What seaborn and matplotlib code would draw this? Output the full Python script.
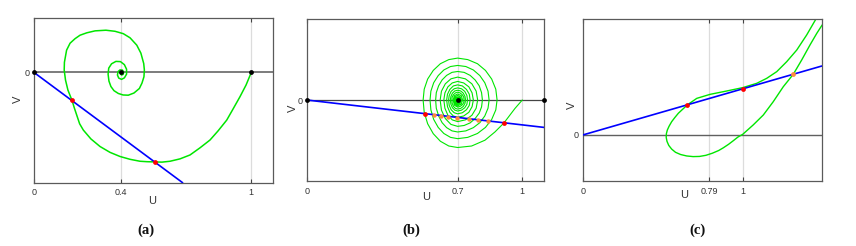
import numpy as np
import matplotlib
matplotlib.use("Agg")
import matplotlib.pyplot as plt
import seaborn as sns

# ---------------- data ----------------
# panel (a)
a_curve_u = [1.000, 0.976, 0.948, 0.916, 0.887, 0.847, 0.810, 0.764, 0.718, 0.672,
             0.626, 0.589, 0.555, 0.520, 0.488, 0.442, 0.396, 0.350, 0.304, 0.262,
             0.227, 0.210, 0.198, 0.186, 0.175, 0.165, 0.156, 0.145, 0.139, 0.140, 0.150, 0.166, 0.189,
             0.212, 0.243, 0.281, 0.331, 0.373, 0.411, 0.442, 0.473, 0.492, 0.505,
             0.508, 0.506, 0.497, 0.485, 0.460, 0.434, 0.410, 0.388, 0.368, 0.354,
             0.345, 0.341, 0.344, 0.357, 0.377, 0.398, 0.416, 0.426, 0.426, 0.416,
             0.403, 0.390, 0.384, 0.387, 0.396, 0.407, 0.413, 0.410, 0.403, 0.397,
             0.399, 0.400]
a_curve_v = [0.000, -0.058, -0.112, -0.169, -0.220, -0.270, -0.312, -0.348, -0.381, -0.399,
             -0.410, -0.414, -0.413, -0.412, -0.410, -0.401, -0.388, -0.369, -0.342, -0.307,
             -0.266, -0.237, -0.201, -0.165, -0.129, -0.104, -0.081, -0.035, 0.011, 0.047, 0.103, 0.135, 0.156,
             0.172, 0.183, 0.192, 0.195, 0.190, 0.179, 0.160, 0.126, 0.089, 0.041,
             0.011, -0.020, -0.049, -0.074, -0.095, -0.105, -0.104, -0.097, -0.084, -0.065,
             -0.040, -0.008, 0.020, 0.040, 0.051, 0.050, 0.036, 0.015, -0.008, -0.025,
             -0.032, -0.026, -0.012, 0.004, 0.012, 0.011, 0.001, -0.009, -0.012, -0.006,
             0.000, 0.000]
a_line_u = [0.0, 0.684]
a_line_v = [0.0, -0.509]
a_red_u = [0.175, 0.555]
a_red_v = [-0.129, -0.413]
a_black_u = [0.0, 0.4, 1.0]
a_black_v = [0.0, 0.0, 0.0]
a_ticks = [0, 0.4, 1]
a_ticklabels = ["0", "0.4", "1"]

# panel (b): trajectory from (1, 0) spiralling into (0.7, 0), loop by loop
b_curve_u = [1.000, 0.966, 0.915, 0.873, 0.827, 0.765,
             # loop 0
             0.700, 0.659, 0.620, 0.587, 0.561, 0.545, 0.540, 0.545, 0.561, 0.587, 0.620, 0.659,
             0.700, 0.747, 0.792, 0.829, 0.858, 0.877, 0.883, 0.877, 0.858, 0.829, 0.792, 0.747,
             # loop 1
             0.700, 0.667, 0.636, 0.610, 0.589, 0.576, 0.572, 0.576, 0.589, 0.610, 0.636, 0.667,
             0.700, 0.738, 0.773, 0.803, 0.826, 0.841, 0.846, 0.841, 0.826, 0.803, 0.773, 0.738,
             # loop 2
             0.700, 0.674, 0.649, 0.628, 0.612, 0.601, 0.598, 0.601, 0.612, 0.628, 0.649, 0.674,
             0.700, 0.730, 0.758, 0.781, 0.800, 0.811, 0.815, 0.811, 0.800, 0.781, 0.758, 0.730,
             # loops 3-8
             0.700, 0.669, 0.643, 0.625, 0.619, 0.625, 0.643, 0.669, 0.700, 0.736, 0.766, 0.786, 0.793, 0.786, 0.766, 0.736,
             0.700, 0.675, 0.655, 0.641, 0.636, 0.641, 0.655, 0.675, 0.700, 0.728, 0.752, 0.767, 0.773, 0.767, 0.752, 0.728,
             0.700, 0.680, 0.664, 0.653, 0.649, 0.653, 0.664, 0.680, 0.700, 0.722, 0.741, 0.754, 0.758, 0.754, 0.741, 0.722,
             0.700, 0.684, 0.670, 0.661, 0.658, 0.661, 0.670, 0.684, 0.700, 0.718, 0.733, 0.743, 0.746, 0.743, 0.733, 0.718,
             0.700, 0.687, 0.676, 0.669, 0.666, 0.669, 0.676, 0.687, 0.700, 0.714, 0.726, 0.734, 0.737, 0.734, 0.726, 0.714,
             0.700, 0.690, 0.681, 0.675, 0.673, 0.675, 0.681, 0.690, 0.700, 0.711, 0.721, 0.728, 0.730, 0.728, 0.721, 0.711,
             # innermost loops
             0.700, 0.685, 0.679, 0.685, 0.700, 0.717, 0.723, 0.717,
             0.700, 0.688, 0.684, 0.688, 0.700, 0.712, 0.717, 0.712,
             0.700, 0.691, 0.688, 0.691, 0.700, 0.709, 0.713, 0.709,
             0.700, 0.693, 0.690, 0.693, 0.700, 0.707, 0.710, 0.706, 0.700, 0.695, 0.693, 0.700, 0.706, 0.700, 0.700]
b_curve_v = [0.000, -0.039, -0.106, -0.148, -0.186, -0.213,
             # loop 0
             -0.220, -0.213, -0.191, -0.156, -0.110, -0.057, 0.000, 0.050, 0.097, 0.137, 0.168, 0.187,
             0.194, 0.187, 0.168, 0.137, 0.097, 0.050, 0.000, -0.046, -0.090, -0.127, -0.155, -0.173,
             # loop 1
             -0.179, -0.173, -0.155, -0.127, -0.090, -0.046, 0.000, 0.041, 0.080, 0.113, 0.139, 0.155,
             0.160, 0.155, 0.139, 0.113, 0.080, 0.041, 0.000, -0.038, -0.074, -0.105, -0.128, -0.143,
             # loop 2
             -0.148, -0.143, -0.128, -0.105, -0.074, -0.038, 0.000, 0.034, 0.066, 0.093, 0.114, 0.128,
             0.132, 0.128, 0.114, 0.093, 0.066, 0.034, 0.000, -0.032, -0.061, -0.086, -0.106, -0.118,
             # loops 3-8
             -0.122, -0.113, -0.086, -0.047, 0.000, 0.041, 0.075, 0.098, 0.106, 0.098, 0.075, 0.041, 0.000, -0.038, -0.071, -0.092,
             -0.100, -0.092, -0.071, -0.038, 0.000, 0.033, 0.061, 0.079, 0.086, 0.079, 0.061, 0.033, 0.000, -0.031, -0.057, -0.074,
             -0.080, -0.074, -0.057, -0.031, 0.000, 0.027, 0.049, 0.065, 0.070, 0.065, 0.049, 0.027, 0.000, -0.025, -0.045, -0.059,
             -0.064, -0.059, -0.045, -0.025, 0.000, 0.021, 0.040, 0.052, 0.056, 0.052, 0.040, 0.021, 0.000, -0.020, -0.036, -0.047,
             -0.051, -0.047, -0.036, -0.020, 0.000, 0.017, 0.032, 0.042, 0.045, 0.042, 0.032, 0.017, 0.000, -0.016, -0.030, -0.039,
             -0.042, -0.039, -0.030, -0.016, 0.000, 0.014, 0.025, 0.033, 0.036, 0.033, 0.025, 0.014, 0.000, -0.013, -0.023, -0.030,
             # innermost loops
             -0.033, -0.024, 0.000, 0.020, 0.028, 0.020, 0.000, -0.019,
             -0.027, -0.019, 0.000, 0.015, 0.021, 0.015, 0.000, -0.015,
             -0.021, -0.015, 0.000, 0.010, 0.014, 0.010, 0.000, -0.012,
             -0.017, -0.012, 0.000, 0.007, 0.010, 0.007, 0.000, -0.008, -0.011, -0.007, 0.000, 0.006, 0.000, -0.004, 0.000]
b_line_u = [0.0, 1.102]
b_line_v = [0.0, -0.127]
b_red_u = [0.549, 0.915]
b_red_v = [-0.065, -0.107]
b_orange_u = [0.592, 0.621, 0.655, 0.698, 0.754, 0.796, 0.842]
b_orange_v = [-0.070, -0.073, -0.077, -0.082, -0.087, -0.092, -0.098]
b_black_u = [0.0, 0.7, 1.1]
b_black_v = [0.0, 0.0, 0.0]
b_ticks = [0, 0.7, 1]
b_ticklabels = ["0", "0.7", "1"]

# panel (c)
c_curve_u = [1.458, 1.400, 1.338, 1.275, 1.213, 1.150, 1.088, 1.000, 0.900, 0.796,
             0.713, 0.654, 0.598, 0.575, 0.556, 0.540, 0.529, 0.523, 0.522, 0.527,
             0.538, 0.556, 0.580, 0.612, 0.650, 0.690, 0.730, 0.770, 0.810, 0.850,
             0.879, 0.912, 0.941, 0.970, 1.000, 1.066, 1.129, 1.191, 1.254, 1.316,
             1.369, 1.421, 1.463, 1.497]
c_curve_v = [0.725, 0.625, 0.531, 0.458, 0.396, 0.354, 0.323, 0.296, 0.275, 0.254,
             0.229, 0.188, 0.136, 0.108, 0.083, 0.055, 0.031, 0.008, -0.015, -0.040,
             -0.065, -0.088, -0.108, -0.122, -0.131, -0.135, -0.134, -0.127, -0.114, -0.097,
             -0.080, -0.058, -0.036, -0.013, 0.004, 0.063, 0.125, 0.208, 0.302, 0.379,
             0.469, 0.563, 0.635, 0.688]
c_line_u = [0.0, 1.494]
c_line_v = [0.0, 0.431]
c_red_u = [0.654, 1.000]
c_red_v = [0.188, 0.290]
c_orange_u = [1.316]
c_orange_v = [0.380]
c_ticks = [0, 0.79, 1]
c_ticklabels = ["0", "0.79", "1"]

captions = ["(a)", "(b)", "(c)"]

# ---------------- styling ----------------
sns.set_theme(style="white")
plt.rcParams["font.family"] = ["Liberation Sans", "DejaVu Sans"]

GREEN = "#00e600"
BLUE = "#0000ff"
RED = "#ff0000"
ORANGE = "#ff8a3d"

fig = plt.figure(figsize=(8.56, 2.46), dpi=100)
W, H = 856, 246

def add_ax(left, right, top, bottom):
    return fig.add_axes([left / W, 1 - bottom / H, (right - left) / W, (bottom - top) / H])

ax_a = add_ax(34, 273, 18.3, 182.7)
ax_b = add_ax(306.7, 544.3, 19, 181)
ax_c = add_ax(582.7, 821.7, 19, 181)

def style(ax, xlim, ylim, ticks, labels, zero_color, zero_lw, ulab, vlab):
    ax.set_xlim(*xlim)
    ax.set_ylim(*ylim)
    for s in ax.spines.values():
        s.set_color("#5a5a5a")
        s.set_linewidth(0.9)
    for t in ticks[1:]:
        ax.axvline(t, color="#dcdcdc", lw=0.9, zorder=0.5)
    ax.axhline(0, color=zero_color, lw=zero_lw, zorder=1)
    ax.set_xticks(ticks)
    ax.set_xticklabels(labels)
    ax.set_yticks([0])
    ax.set_yticklabels(["0"])
    ax.tick_params(axis="both", direction="in", length=3, width=0.8, color="#444444",
                   labelsize=6.5, labelcolor="#333333", pad=4)
    ax.tick_params(axis="x", top=True, bottom=True)
    ax.tick_params(axis="y", left=True, right=False, pad=3)
    ax.set_xlabel("U", fontsize=8, color="#333333")
    ax.set_ylabel("V", fontsize=8, color="#333333")
    ax.xaxis.set_label_coords(*ulab)
    ax.xaxis.label.set_va("center")
    ax.yaxis.set_label_coords(*vlab)
    ax.yaxis.label.set_va("center")
    ax.yaxis.label.set_ha("center")
    ax.grid(False)

style(ax_a, (0, 1.10), (-0.509, 0.25), a_ticks, a_ticklabels, "#666666", 1.2,
      (0.494, -0.109), (-0.066, 0.508))
style(ax_b, (0, 1.102), (-0.375, 0.375), b_ticks, b_ticklabels, "#444444", 0.9,
      (0.502, -0.097), (-0.058, 0.446))
style(ax_c, (0, 1.494), (-0.2875, 0.725), c_ticks, c_ticklabels, "#606060", 1.0,
      (0.425, -0.086), (-0.046, 0.469))

# ---------------- panel (a) ----------------
sns.lineplot(x=a_curve_u, y=a_curve_v, ax=ax_a, sort=False, estimator=None,
             color=GREEN, linewidth=1.1, zorder=2)
sns.lineplot(x=a_line_u, y=a_line_v, ax=ax_a, sort=False, estimator=None,
             color=BLUE, linewidth=1.2, zorder=3)
sns.scatterplot(x=a_red_u, y=a_red_v, ax=ax_a, color=RED, s=12, linewidth=0, zorder=4)
sns.scatterplot(x=a_black_u, y=a_black_v, ax=ax_a, color="black", s=12, linewidth=0,
                zorder=5, clip_on=False)

# ---------------- panel (b) ----------------
sns.lineplot(x=b_curve_u, y=b_curve_v, ax=ax_b, sort=False, estimator=None,
             color=GREEN, linewidth=0.8, zorder=2)
sns.lineplot(x=b_line_u, y=b_line_v, ax=ax_b, sort=False, estimator=None,
             color=BLUE, linewidth=1.2, zorder=3)
sns.scatterplot(x=b_orange_u, y=b_orange_v, ax=ax_b, color=ORANGE, s=10, linewidth=0, zorder=4)
sns.scatterplot(x=b_red_u, y=b_red_v, ax=ax_b, color=RED, s=12, linewidth=0, zorder=4)
sns.scatterplot(x=b_black_u, y=b_black_v, ax=ax_b, color="black", s=12, linewidth=0,
                zorder=5, clip_on=False)

# ---------------- panel (c) ----------------
sns.lineplot(x=c_curve_u, y=c_curve_v, ax=ax_c, sort=False, estimator=None,
             color=GREEN, linewidth=1.0, zorder=2)
sns.lineplot(x=c_line_u, y=c_line_v, ax=ax_c, sort=False, estimator=None,
             color=BLUE, linewidth=1.2, zorder=3)
sns.scatterplot(x=c_red_u, y=c_red_v, ax=ax_c, color=RED, s=12, linewidth=0, zorder=4)
sns.scatterplot(x=c_orange_u, y=c_orange_v, ax=ax_c, color=ORANGE, s=12, linewidth=0, zorder=4)

# ---------------- captions ----------------
for cx, cap in zip([146, 411, 697], captions):
    fig.text(cx / W, 1 - 230 / H, cap, ha="center", va="center", fontsize=10.5,
             fontweight="bold", family=["Liberation Serif", "DejaVu Serif"], color="#111111")

fig.savefig("out.png", dpi=100)
